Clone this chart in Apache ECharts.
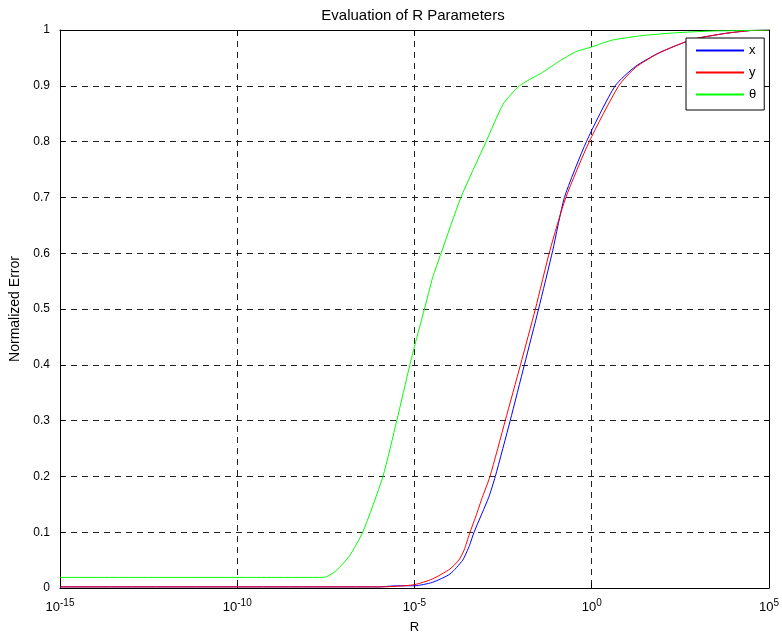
<!DOCTYPE html>
<html>
<head>
<meta charset="utf-8">
<script src="https://cdn.jsdelivr.net/npm/echarts@6/dist/echarts.min.js"></script>
<style>
html,body{margin:0;padding:0;background:#fff;}
#chart{width:782px;height:639px;}
</style>
</head>
<body>
<div id="chart"></div>
<script>
// log10(R) exponents and normalized errors
const seriesNames = ['x', 'y', 'θ'];
const xExp = [-15, -6, -5.5, -5, -4.5, -4, -3.64, -3.45, -3.32, -2.91, -2.72, -2.3, -1.9, -1.5, -1.1, -0.77, -0.15, 0.66, 1.24, 1.9, 2.84, 3.78, 4.48, 5];
const xErr = [0.002, 0.002, 0.004, 0.004, 0.01, 0.025, 0.05, 0.076, 0.1, 0.162, 0.2, 0.3, 0.4, 0.5, 0.605, 0.7, 0.8, 0.9, 0.935, 0.959, 0.983, 0.994, 0.999, 1.0];
const yExp = [-15, -6, -5.5, -5, -4.5, -4, -3.75, -3.6, -3.45, -3.25, -3.09, -2.87, -2.44, -2.01, -1.59, -1.18, -0.73, -0.07, 0.76, 1.24, 1.9, 2.84, 3.78, 4.48, 5];
const yErr = [0.002, 0.002, 0.003, 0.006, 0.016, 0.034, 0.05, 0.068, 0.097, 0.132, 0.162, 0.2, 0.3, 0.4, 0.5, 0.605, 0.7, 0.8, 0.9, 0.933, 0.959, 0.983, 0.994, 0.999, 1.0];
const thetaExp = [-15, -7.7, -7.49, -7.21, -6.83, -6.46, -5.89, -5.5, -5.13, -5.0, -4.72, -4.49, -4.25, -3.69, -2.98, -2.5, -2.04, -1.39, -0.92, -0.45, 0.02, 0.59, 1.43, 2.37, 3.31, 4.25, 5];
const thetaErr = [0.019, 0.019, 0.02, 0.031, 0.058, 0.1, 0.2, 0.3, 0.4, 0.433, 0.5, 0.556, 0.6, 0.7, 0.8, 0.867, 0.9, 0.924, 0.944, 0.961, 0.97, 0.982, 0.99, 0.995, 0.998, 0.999, 1.0];
const xTickExps = [-15, -10, -5, 0, 5];
const yTicks = [0, 0.1, 0.2, 0.3, 0.4, 0.5, 0.6, 0.7, 0.8, 0.9, 1];

const FONT = "'Liberation Sans', Arial, Helvetica, sans-serif";
const pairs = (xs, ys) => xs.map((e, i) => [e, ys[i]]);

const chart = echarts.init(document.getElementById('chart'), null, {renderer: 'canvas'});
const dashed = {show: true, lineStyle: {color: '#222', type: [6, 5], width: 1}};
const lineSeries = (name, data, color) => ({
  name, type: 'line', data, symbol: 'none', smooth: 0.2,
  lineStyle: {color, width: 1}, itemStyle: {color}
});
const option = {
  backgroundColor: '#fff',
  animation: false,
  title: {
    text: 'Evaluation of R Parameters',
    left: 408, top: 3, textAlign: 'center',
    textStyle: {fontFamily: FONT, fontSize: 15, fontWeight: 'normal', color: '#000'}
  },
  legend: {
    data: seriesNames,
    orient: 'vertical',
    left: 686, top: 38,
    padding: [6, 8, 9, 9],
    itemWidth: 48, itemHeight: 14, itemGap: 9,
    borderColor: '#000', borderWidth: 1,
    backgroundColor: '#fff',
    itemStyle: {opacity: 0},
    textStyle: {fontFamily: FONT, fontSize: 13, color: '#000'}
  },
  grid: {left: 60, right: 12, top: 30, bottom: 50},
  xAxis: [{
    type: 'value', min: -15, max: 5, interval: 5,
    name: 'R', nameLocation: 'middle', nameGap: 33,
    nameTextStyle: {fontFamily: FONT, fontSize: 13, color: '#000'},
    axisLine: {show: true, onZero: false, lineStyle: {color: '#000', width: 1}},
    axisTick: {show: true, inside: true, length: 5, lineStyle: {color: '#000'}},
    axisLabel: {
      margin: 10,
      formatter: v => '{b|10}{s|' + v + '}',
      rich: {
        b: {fontFamily: FONT, fontSize: 13, color: '#000'},
        s: {fontFamily: FONT, fontSize: 10, color: '#000', padding: [0, 0, 8, 0]}
      }
    },
    splitLine: dashed
  }, {
    type: 'value', min: -15, max: 5, interval: 5, position: 'top',
    axisLine: {show: true, onZero: false, lineStyle: {color: '#000', width: 1}},
    axisTick: {show: true, inside: true, length: 5, lineStyle: {color: '#000'}},
    axisLabel: {show: false}, splitLine: {show: false}
  }],
  yAxis: [{
    type: 'value', min: 0, max: 1, interval: 0.1,
    name: 'Normalized Error', nameLocation: 'middle', nameGap: 38,
    nameTextStyle: {fontFamily: FONT, fontSize: 14, color: '#000'},
    axisLine: {show: true, onZero: false, lineStyle: {color: '#000', width: 1}},
    axisTick: {show: true, inside: true, length: 5, lineStyle: {color: '#000'}},
    axisLabel: {margin: 10, fontFamily: FONT, fontSize: 12, color: '#000',
      formatter: v => String(Math.round(v * 10) / 10)},
    splitLine: dashed
  }, {
    type: 'value', min: 0, max: 1, interval: 0.1, position: 'right',
    axisLine: {show: true, onZero: false, lineStyle: {color: '#000', width: 1}},
    axisTick: {show: true, inside: true, length: 5, lineStyle: {color: '#000'}},
    axisLabel: {show: false}, splitLine: {show: false}
  }],
  series: [
    lineSeries(seriesNames[0], pairs(xExp, xErr), '#0000ff'),
    lineSeries(seriesNames[1], pairs(yExp, yErr), '#ff0000'),
    lineSeries(seriesNames[2], pairs(thetaExp, thetaErr), '#00ff00')
  ]
};
chart.setOption(option);
</script>
</body>
</html>
